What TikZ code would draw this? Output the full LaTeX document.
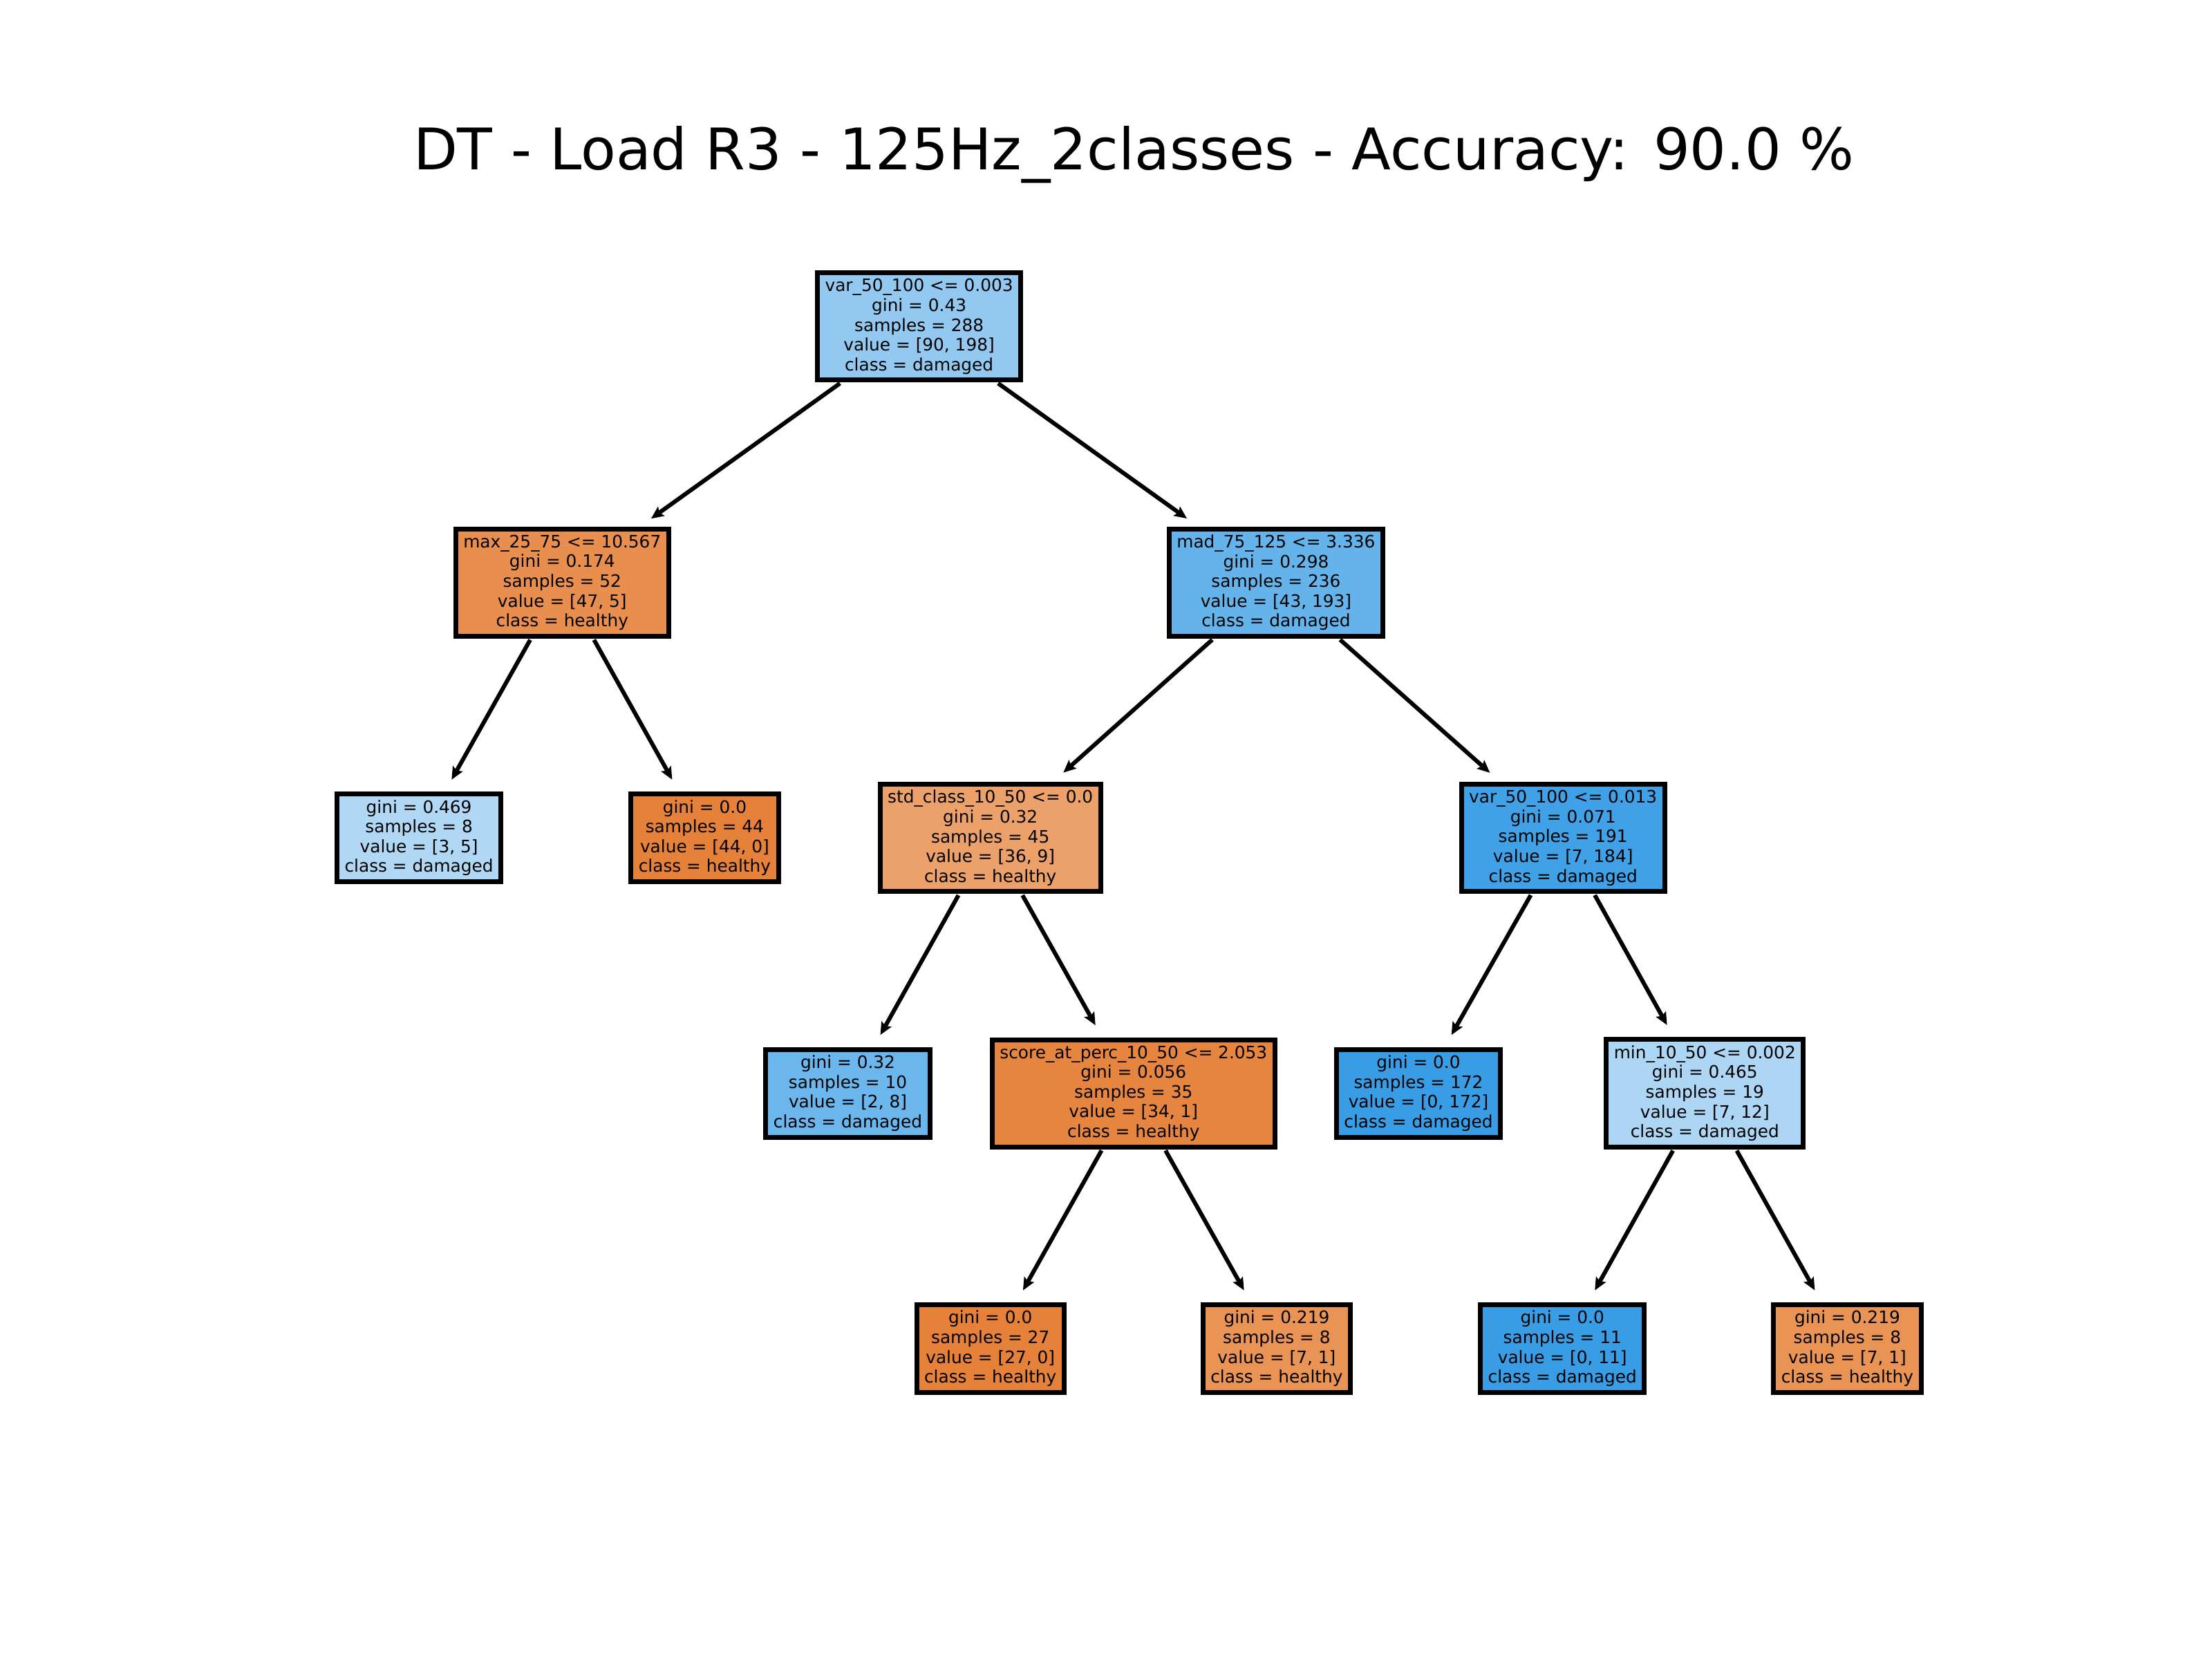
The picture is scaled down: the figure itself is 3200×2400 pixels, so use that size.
\documentclass[tikz,border=0pt]{standalone}
\usepackage{fontspec}
\setmainfont{DejaVu Sans}
\usetikzlibrary{arrows.meta}
\definecolor{c0}{RGB}{147,201,241}
\definecolor{c1}{RGB}{232,142,78}
\definecolor{c2}{RGB}{101,179,235}
\definecolor{c3}{RGB}{176,216,245}
\definecolor{c4}{RGB}{229,129,57}
\definecolor{c5}{RGB}{236,161,107}
\definecolor{c6}{RGB}{64,161,230}
\definecolor{c7}{RGB}{107,182,236}
\definecolor{c8}{RGB}{230,133,63}
\definecolor{c9}{RGB}{57,157,229}
\definecolor{c10}{RGB}{172,214,244}
\definecolor{c11}{RGB}{233,147,85}
\tikzset{
  tnode/.style={draw=black, line width=7pt, align=center, inner xsep=11pt, inner ysep=8.5pt,
    font=\fontsize{24.8}{28.6}\selectfont},
  edge/.style={line width=6pt, -{Stealth[length=18pt,width=16pt,inset=3pt]}, shorten >=20pt, shorten <=2pt}
}
\begin{document}
\begin{tikzpicture}[x=1pt,y=-1pt]
\useasboundingbox (0,0) rectangle (3200,2400);
\node[font=\fontsize{83}{100}\selectfont] (title) at (1640,224) {DT - Load R3 - 125Hz\_2classes - Accuracy: 90.0 \%};

\node[tnode, fill=c0] (n0) at (1329.6,472.4) {var\_50\_100 <= 0.003\\gini = 0.43\\samples = 288\\value = [90, 198]\\class = damaged};
\node[tnode, fill=c1] (n1) at (813.3,842.9) {max\_25\_75 <= 10.567\\gini = 0.174\\samples = 52\\value = [47, 5]\\class = healthy};
\node[tnode, fill=c2] (n2) at (1845.9,842.9) {mad\_75\_125 <= 3.336\\gini = 0.298\\samples = 236\\value = [43, 193]\\class = damaged};
\node[tnode, fill=c3] (n3) at (606.1,1212.2) {gini = 0.469\\samples = 8\\value = [3, 5]\\class = damaged};
\node[tnode, fill=c4] (n4) at (1019.4,1212.2) {gini = 0.0\\samples = 44\\value = [44, 0]\\class = healthy};
\node[tnode, fill=c5] (n5) at (1432.7,1212.2) {std\_class\_10\_50 <= 0.0\\gini = 0.32\\samples = 45\\value = [36, 9]\\class = healthy};
\node[tnode, fill=c6] (n6) at (2261.2,1212.2) {var\_50\_100 <= 0.013\\gini = 0.071\\samples = 191\\value = [7, 184]\\class = damaged};
\node[tnode, fill=c7] (n7) at (1226.5,1581.6) {gini = 0.32\\samples = 10\\value = [2, 8]\\class = damaged};
\node[tnode, fill=c8] (n8) at (1639.8,1581.6) {score\_at\_perc\_10\_50 <= 2.053\\gini = 0.056\\samples = 35\\value = [34, 1]\\class = healthy};
\node[tnode, fill=c9] (n9) at (2052.0,1581.6) {gini = 0.0\\samples = 172\\value = [0, 172]\\class = damaged};
\node[tnode, fill=c10] (n10) at (2466.3,1581.6) {min\_10\_50 <= 0.002\\gini = 0.465\\samples = 19\\value = [7, 12]\\class = damaged};
\node[tnode, fill=c4] (n11) at (1432.7,1951) {gini = 0.0\\samples = 27\\value = [27, 0]\\class = healthy};
\node[tnode, fill=c11] (n12) at (1846.9,1951) {gini = 0.219\\samples = 8\\value = [7, 1]\\class = healthy};
\node[tnode, fill=c9] (n13) at (2260.2,1951) {gini = 0.0\\samples = 11\\value = [0, 11]\\class = damaged};
\node[tnode, fill=c11] (n14) at (2672.4,1951) {gini = 0.219\\samples = 8\\value = [7, 1]\\class = healthy};

\draw[edge] (n0) -- (n1);
\draw[edge] (n0) -- (n2);
\draw[edge] (n1) -- (n3);
\draw[edge] (n1) -- (n4);
\draw[edge] (n2) -- (n5);
\draw[edge] (n2) -- (n6);
\draw[edge] (n5) -- (n7);
\draw[edge] (n5) -- (n8);
\draw[edge] (n6) -- (n9);
\draw[edge] (n6) -- (n10);
\draw[edge] (n8) -- (n11);
\draw[edge] (n8) -- (n12);
\draw[edge] (n10) -- (n13);
\draw[edge] (n10) -- (n14);
\end{tikzpicture}
\end{document}
